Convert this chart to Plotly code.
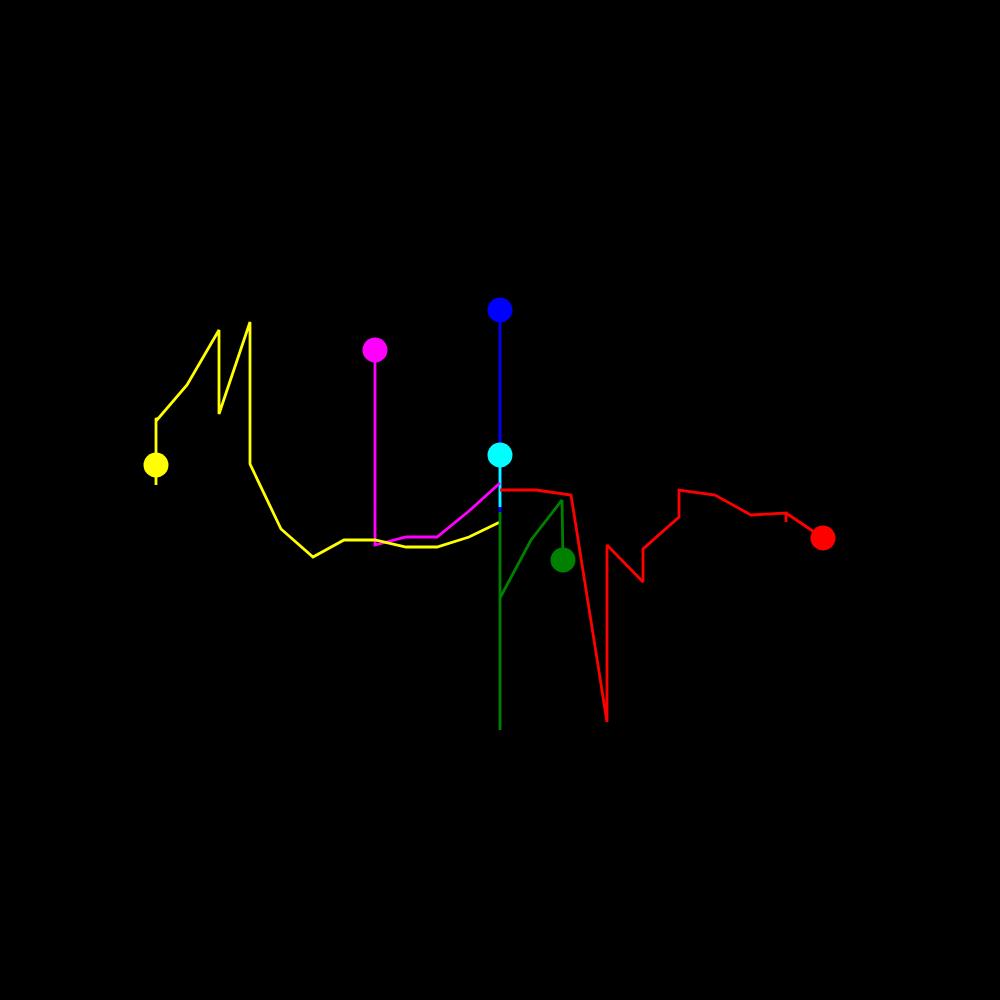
import plotly.graph_objects as go

# Series values (x, y) in chart units
blue_x = [50.0, 50.0]
blue_y = [48.8, 69.0]

cyan_x = [50.0, 50.0]
cyan_y = [49.3, 54.5]

magenta_x = [50.0, 46.9, 43.7, 40.6, 37.5, 37.5, 37.5, 37.5, 37.5]
magenta_y = [51.7, 48.9, 46.3, 46.3, 45.5, 63.0, 60.5, 53.5, 65.0]

yellow_x = [50.0, 46.9, 43.7, 40.6, 37.5, 34.4, 31.3, 28.1, 25.0, 25.0, 21.9, 21.9, 18.7, 15.7, 15.6, 15.6, 15.6]
yellow_y = [47.8, 46.3, 45.3, 45.3, 46.0, 46.0, 44.3, 47.1, 53.6, 67.8, 58.6, 67.0, 61.5, 58.0, 58.2, 51.5, 53.5]

green_x = [50.0, 50.0, 50.0, 53.1, 56.2, 56.3]
green_y = [48.8, 27.0, 40.2, 46.0, 50.0, 44.0]

red_x = [50.0, 53.6, 57.1, 60.7, 60.7, 64.3, 64.3, 67.9, 67.9, 71.5, 75.1, 78.6, 78.6, 78.6, 82.3]
red_y = [51.0, 51.0, 50.5, 27.8, 45.5, 41.8, 45.1, 48.3, 51.0, 50.5, 48.5, 48.7, 47.8, 48.7, 46.2]

series = [
    ("blue", blue_x, blue_y, "#0000ff"),
    ("cyan", cyan_x, cyan_y, "#00ffff"),
    ("magenta", magenta_x, magenta_y, "#ff00ff"),
    ("yellow", yellow_x, yellow_y, "#ffff00"),
    ("green", green_x, green_y, "#008000"),
    ("red", red_x, red_y, "#ff0000"),
]

fig = go.Figure()
for name, xs, ys, col in series:
    fig.add_trace(go.Scatter(x=xs, y=ys, mode="lines", name=name,
                             line=dict(color=col, width=2.8), hoverinfo="skip"))
for name, xs, ys, col in series:
    fig.add_trace(go.Scatter(x=[xs[-1]], y=[ys[-1]], mode="markers", name=name + " end",
                             marker=dict(color=col, size=25, line=dict(width=0))))

fig.update_layout(
    width=1000, height=1000,
    margin=dict(l=0, r=0, t=0, b=0),
    paper_bgcolor="black", plot_bgcolor="black",
    showlegend=False,
    xaxis=dict(range=[0, 100], visible=False, showgrid=False, zeroline=False),
    yaxis=dict(range=[0, 100], visible=False, showgrid=False, zeroline=False),
)
fig.write_html("out.html")
